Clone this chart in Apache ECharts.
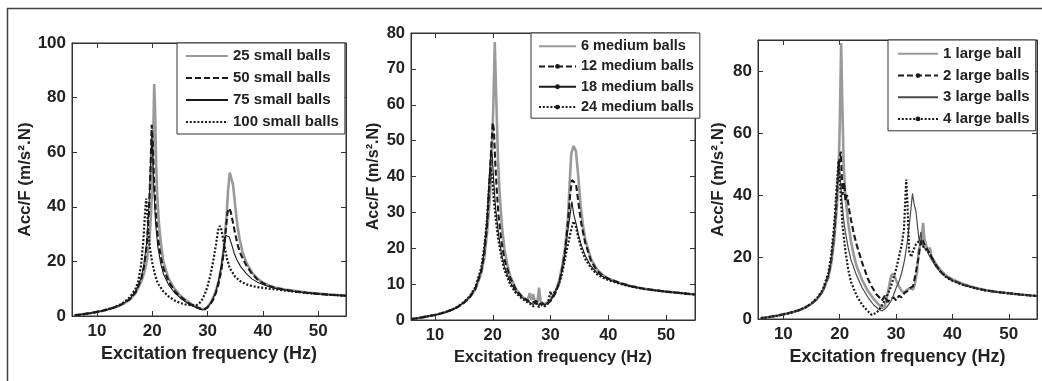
<!DOCTYPE html>
<html><head><meta charset="utf-8">
<script src="https://cdn.jsdelivr.net/npm/echarts@6/dist/echarts.min.js"></script>
<style>html,body{margin:0;padding:0;background:#fff}#c{width:1042px;height:381px}</style>
</head><body><div id="c"></div>
<script>
// ---------- tick labels ----------
const xTicks = [10, 20, 30, 40, 50];
const yTicks1 = [0, 20, 40, 60, 80, 100];
const yTicks2 = [0, 10, 20, 30, 40, 50, 60, 70, 80];
const yTicks3 = [0, 20, 40, 60, 80];

// ---------- legend names ----------
const names1 = ['25 small balls', '50 small balls', '75 small balls', '100 small balls'];
const names2 = ['6 medium balls', '12 medium balls', '18 medium balls', '24 medium balls'];
const names3 = ['1 large ball', '2 large balls', '3 large balls', '4 large balls'];

// ---------- panel 1 data [Hz, Acc/F] ----------
const small25 = [[6,0.3],[7,0.5],[8,0.8],[9,1.1],[10,1.5],[11,1.9],[12,2.4],[13,3.0],[14,3.7],[15,4.7],[16,6.1],[17,8.4],[18,12.5],[18.5,15.5],[19,20],[19.5,28],[19.8,38],[20,50],[20.2,68],[20.35,85],[20.5,76],[20.7,56],[20.9,44],[21.2,34],[21.6,26],[22,20],[22.5,16.5],[23,13.5],[24,10],[25,7.6],[26,5.9],[27,4.4],[28,3.3],[29,2.5],[29.5,2.6],[30,3.4],[30.5,4.7],[31,6.6],[31.5,9.3],[32,13],[32.5,18],[33,26],[33.4,36],[33.7,46],[34,52.5],[34.3,52],[34.6,48],[35,40],[35.4,33],[35.8,28],[36.3,23.5],[37,19.5],[38,16],[39,13.7],[40,12.2],[41,11.2],[42,10.5],[44,9.7],[46,9.1],[48,8.6],[50,8.2],[52,7.9],[55,7.5]];
const small50 = [[6,0.3],[7,0.5],[8,0.8],[9,1.1],[10,1.5],[11,1.9],[12,2.4],[13,3.0],[14,3.8],[15,4.8],[16,6.3],[17,8.8],[18,13.5],[18.5,18],[19,26],[19.4,38],[19.7,55],[19.9,70],[20.1,63],[20.3,51],[20.6,39],[21,29],[21.5,22],[22,17.5],[23,12.5],[24,9.3],[25,7.2],[26,5.6],[27,4.2],[28,3.2],[29,2.4],[29.5,2.5],[30,3.2],[30.5,4.4],[31,6],[31.5,8.5],[32,12],[32.5,17],[33,25],[33.3,32],[33.6,38],[33.9,39.5],[34.2,38],[34.6,34],[35,30],[35.5,25.5],[36,22.5],[37,18.5],[38,15.5],[39,13.4],[40,12],[41,11.1],[42,10.4],[44,9.6],[46,9],[48,8.5],[50,8.1],[52,7.8],[55,7.4]];
const small75 = [[6,0.3],[7,0.5],[8,0.8],[9,1.1],[10,1.5],[11,1.9],[12,2.4],[13,3.0],[14,3.8],[15,4.9],[16,6.4],[17,9],[18,14],[18.5,19],[19,27],[19.4,40],[19.7,56],[19.9,66],[20.1,58],[20.3,46],[20.6,34],[21,25.5],[21.5,19.5],[22,15.5],[23,11.3],[24,8.6],[25,6.7],[26,5.2],[27,3.9],[28,3],[29,2.3],[29.5,2.4],[30,3.2],[30.5,4.6],[31,6.5],[31.5,9],[32,13],[32.5,19],[33,26],[33.3,29.5],[33.6,30],[33.9,29],[34.3,26.5],[34.8,23],[35.3,20.5],[36,18],[37,15.5],[38,13.6],[39,12.4],[40,11.5],[41,10.8],[42,10.2],[44,9.5],[46,8.9],[48,8.5],[50,8.1],[52,7.8],[55,7.4]];
const small100 = [[6,0.3],[7,0.5],[8,0.8],[9,1.1],[10,1.5],[11,1.9],[12,2.5],[13,3.1],[14,4],[15,5.2],[16,7],[17,10],[17.5,13],[18,19],[18.4,28],[18.7,38],[18.9,43],[19.1,38],[19.3,31],[19.6,24.5],[20,19.5],[20.5,15],[21,12],[22,9],[23,7.1],[24,5.7],[25,4.8],[26,4.2],[27,3.9],[28,4],[28.5,4.6],[29,6],[29.5,8],[30,11],[30.5,15],[31,20],[31.5,26],[31.9,31.5],[32.2,33],[32.5,31.5],[33,26],[33.5,21],[34,17.5],[35,14.3],[36,12.6],[37,11.6],[38,11],[39,10.6],[40,10.3],[42,9.8],[44,9.3],[46,8.8],[48,8.4],[50,8.1],[52,7.8],[55,7.4]];

// ---------- panel 2 data ----------
const medium6 = [[6,0.3],[7,0.5],[8,0.8],[9,1.1],[10,1.4],[11,1.8],[12,2.3],[13,2.9],[14,3.7],[15,4.8],[16,6.3],[17,8.6],[18,13],[18.5,17],[19,24],[19.5,34],[19.8,45],[20.1,60],[20.35,77.5],[20.6,62],[20.9,45],[21.2,35],[21.6,26],[22,20],[22.5,15.5],[23,12.3],[24,8.7],[25,6.6],[26,5.4],[26.4,7.5],[26.7,5.6],[27,7.2],[27.3,5.1],[27.7,4.6],[28,9],[28.3,5],[29,4.5],[29.5,4.9],[30,5.6],[30.5,7],[31,8.6],[31.5,11],[32,15],[32.5,20],[33,28],[33.3,38],[33.6,46.5],[34,48.5],[34.4,47],[34.8,40],[35.2,32],[35.6,26.5],[36,22.5],[37,17],[38,14.2],[39,12.6],[40,11.6],[42,10.3],[44,9.4],[46,8.8],[48,8.3],[50,7.9],[52,7.6],[55,7.1]];
const medium12 = [[6,0.3],[7,0.5],[8,0.8],[9,1.1],[10,1.4],[11,1.8],[12,2.3],[13,2.9],[14,3.7],[15,4.8],[16,6.3],[17,8.7],[18,13.5],[18.5,18],[19,26],[19.4,37],[19.7,47],[20,55],[20.2,53],[20.4,45],[20.7,36],[21,29],[21.5,22],[22,17],[23,11.8],[24,8.5],[25,6.6],[26,5.5],[26.5,5],[27,4.9],[27.5,5.3],[28,4.3],[28.5,4.7],[29,4.2],[29.5,4.6],[30,5.3],[30.5,6.5],[31,8],[31.5,10.5],[32,14],[32.5,19],[33,27],[33.4,35],[33.7,39],[34,39.5],[34.4,38],[34.8,33],[35.3,27],[36,21.5],[37,16.5],[38,13.8],[39,12.4],[40,11.5],[42,10.3],[44,9.4],[46,8.8],[48,8.3],[50,7.9],[52,7.6],[55,7.1]];
const medium18 = [[6,0.3],[7,0.5],[8,0.8],[9,1.1],[10,1.4],[11,1.8],[12,2.3],[13,2.9],[14,3.7],[15,4.9],[16,6.4],[17,8.9],[18,14],[18.5,19],[19,28],[19.4,40],[19.7,47.5],[19.9,46],[20.2,38],[20.5,31],[21,24],[21.5,18.5],[22,15],[23,10.6],[24,7.9],[25,6.3],[26,5.3],[26.5,4.8],[27,4.3],[27.5,5],[28,4],[28.5,4.6],[29,4.1],[29.5,4.8],[30,5.5],[30.5,6.8],[31,8.5],[31.5,10.5],[32,14],[32.5,18.5],[33,25],[33.4,29.5],[33.7,33],[34,29.5],[34.4,27],[34.8,24],[35.3,21],[36,18],[37,15],[38,13.2],[39,12.1],[40,11.3],[42,10.2],[44,9.3],[46,8.7],[48,8.3],[50,7.9],[52,7.6],[55,7.1]];
const medium24 = [[6,0.3],[7,0.5],[8,0.8],[9,1.1],[10,1.4],[11,1.8],[12,2.3],[13,2.9],[14,3.8],[15,5],[16,6.6],[17,9.2],[18,14.5],[18.5,20],[19,28],[19.3,36],[19.6,42.5],[19.9,40],[20.2,33],[20.6,27],[21,22],[21.5,17.5],[22,14],[23,10],[24,7.5],[25,6],[26,5],[26.5,4.5],[27,3.8],[27.5,4.5],[28,3.6],[28.5,4.2],[29,3.8],[29.5,4.5],[30,8],[30.3,6],[30.6,7.5],[31,8.5],[31.5,10],[32,13],[32.5,17],[33,21],[33.4,24],[33.7,26],[34,27.5],[34.4,26],[34.8,23],[35.3,20],[36,17],[37,14.5],[38,12.8],[39,11.8],[40,11.1],[42,10.1],[44,9.3],[46,8.7],[48,8.3],[50,7.9],[52,7.6],[55,7.1]];

// ---------- panel 3 data ----------
const large1 = [[6,0.3],[7,0.5],[8,0.8],[9,1.1],[10,1.5],[11,1.9],[12,2.4],[13,3.0],[14,3.8],[15,4.9],[16,6.5],[17,9],[18,13.5],[18.5,18],[19,25],[19.5,36],[19.8,48],[20,62],[20.25,89],[20.45,70],[20.7,50],[21,40],[21.5,31],[22,25],[22.5,20.5],[23,17],[24,12.5],[25,9],[26,6.5],[27,4.5],[27.5,3.5],[28,4.2],[28.5,8],[29,13],[29.3,14.5],[29.7,14],[30,12.5],[30.5,10.5],[31,9],[31.5,8.5],[32,9.5],[32.5,10],[33,9.5],[33.3,11],[33.7,15],[34,22],[34.3,24],[34.6,28],[34.8,31],[35,26],[35.3,24],[35.6,22],[36,23],[36.3,20],[37,18],[38,15.5],[39,13.8],[40,12.8],[42,11.2],[44,10.1],[46,9.3],[48,8.7],[50,8.3],[52,7.9],[55,7.4]];
const large2 = [[6,0.3],[7,0.5],[8,0.8],[9,1.1],[10,1.5],[11,1.9],[12,2.4],[13,3.0],[14,3.8],[15,4.9],[16,6.5],[17,9],[18,14],[18.5,19],[19,27],[19.4,37],[19.7,47],[20,52],[20.2,54],[20.5,40],[20.8,44],[21,38],[21.3,40],[21.7,35],[22,32],[22.5,27.5],[23,24],[23.5,21],[24,18],[24.5,15.5],[25,13],[25.5,11],[26,9.5],[26.5,8],[27,7],[27.5,6],[28,7.5],[28.5,5.5],[29,6.5],[29.5,7],[30,6],[30.5,7.5],[31,7],[31.5,8.5],[32,9],[32.5,10],[33,10.5],[33.5,15],[34,20],[34.3,24],[34.6,26],[35,24],[35.5,22.5],[36,21],[37,17.5],[38,15],[39,13.5],[40,12.5],[42,11],[44,10],[46,9.2],[48,8.7],[50,8.3],[52,7.9],[55,7.4]];
const large3 = [[6,0.3],[7,0.5],[8,0.8],[9,1.1],[10,1.5],[11,1.9],[12,2.4],[13,3.0],[14,3.8],[15,4.9],[16,6.5],[17,9],[18,14],[18.5,19],[19,27],[19.4,38],[19.7,47],[19.9,50],[20.1,45],[20.4,38],[20.7,32],[21,28],[21.5,23],[22,19],[23,14],[24,10],[25,7],[26,4.6],[27,3],[27.5,2.6],[28,3.2],[28.5,4.2],[29,5.5],[29.5,7.5],[30,10],[30.5,12],[31,15],[31.5,19],[32,25],[32.5,33],[32.9,40.5],[33.2,37],[33.5,35],[33.8,30],[34.1,25],[34.4,28],[34.7,24],[35,23],[35.5,22],[36,20],[37,17],[38,14.8],[39,13.4],[40,12.4],[42,11],[44,10],[46,9.2],[48,8.7],[50,8.3],[52,7.9],[55,7.4]];
const large4 = [[6,0.3],[7,0.5],[8,0.8],[9,1.1],[10,1.5],[11,1.9],[12,2.4],[13,3.0],[14,3.9],[15,5.1],[16,6.8],[17,9.5],[18,15],[18.5,21],[19,30],[19.4,41],[19.8,51],[20.1,42],[20.5,30],[21,22],[21.5,16],[22,12],[23,7.5],[24,4.5],[25,2.5],[25.7,1.3],[26.5,2],[27,3],[28,6],[28.5,8],[29,10],[29.5,13],[30,16],[30.5,20],[31,24],[31.4,29],[31.8,45],[32,38],[32.3,22],[32.7,20],[33,22],[33.5,24],[34,25],[34.5,24],[35,23],[35.5,22],[36,21],[37,17.5],[38,15],[39,13.3],[40,12.3],[42,10.9],[44,9.9],[46,9.2],[48,8.7],[50,8.3],[52,7.9],[55,7.4]];

// ---------- layout / style ----------
const FONT = 'Liberation Sans';
const panels = [
  { grid: {left: 72, top: 43, width: 274, height: 273}, xmin: 5.5, xmax: 55, ymax: 100, yTicks: yTicks1,
    tickFont: 17, xNameFont: 18, yNameFont: 17, xGap: 24, yGap: 30,
    legend: {left: 177, top: 43, itemWidth: 42, lineHeight: 22, fontSize: 15, padding: [2, 6, 1, 8]},
    names: names1, data: [small25, small50, small75, small100],
    styles: ['grey', 'dash', 'thin', 'dot'], marker: [false, false, false, false] },
  { grid: {left: 411, top: 33, width: 284, height: 287}, xmin: 5.85, xmax: 55, ymax: 80, yTicks: yTicks2,
    tickFont: 16.5, xNameFont: 16.5, yNameFont: 16, xGap: 22, yGap: 29,
    legend: {left: 531, top: 33, itemWidth: 37, lineHeight: 20.3, fontSize: 14.5, padding: [3, 6, 1, 7]},
    names: names2, data: [medium6, medium12, medium18, medium24],
    styles: ['grey', 'dash', 'thin', 'dot'], marker: [false, true, true, true] },
  { grid: {left: 758, top: 40, width: 279, height: 279}, xmin: 5.5, xmax: 55, ymax: 90, yTicks: yTicks3,
    tickFont: 17, xNameFont: 18, yNameFont: 17, xGap: 25, yGap: 31,
    legend: {left: 888, top: 40, itemWidth: 40, lineHeight: 21.7, fontSize: 15, padding: [3, 6, 1, 9]},
    names: names3, data: [large1, large2, large3, large4],
    styles: ['grey', 'dash', 'thinGrey', 'dot'], marker: [false, true, false, true] }
];
const lineStyles = {
  grey: {color: '#9a9a9a', width: 2.6, type: 'solid'},
  dash: {color: '#1a1a1a', width: 2.1, type: [6, 3]},
  thin: {color: '#1a1a1a', width: 1.1, type: 'solid'},
  thinGrey: {color: '#4a4a4a', width: 1.2, type: 'solid'},
  dot: {color: '#1a1a1a', width: 2.2, type: [2, 1.8]}
};

const option = {
  animation: false,
  backgroundColor: '#fff',
  grid: [], xAxis: [], yAxis: [], legend: [], series: [],
  graphic: [{type: 'rect', silent: true, z: -10,
    shape: {x: 7.5, y: 8.5, width: 1100, height: 420},
    style: {fill: 'none', stroke: '#444', lineWidth: 1.5}}]
};

const axisLineStyle = {show: true, lineStyle: {color: '#333', width: 1}};
const tickStyle = (vals) => ({show: true, inside: true, length: 5, customValues: vals, lineStyle: {color: '#333'}});

panels.forEach((p, k) => {
  option.grid.push(Object.assign({show: true, borderColor: '#333', borderWidth: 1, backgroundColor: 'transparent'}, p.grid));
  const labelStyle = {fontFamily: FONT, fontWeight: 'bold', fontSize: p.tickFont, color: '#222'};
  option.xAxis.push({
    type: 'value', gridIndex: k, min: p.xmin, max: p.xmax, position: 'bottom',
    axisLine: Object.assign({onZero: false}, axisLineStyle), axisTick: tickStyle(xTicks),
    axisLabel: Object.assign({customValues: xTicks, margin: 7}, labelStyle),
    splitLine: {show: false},
    name: 'Excitation frequency (Hz)', nameLocation: 'middle', nameGap: p.xGap,
    nameTextStyle: {fontFamily: FONT, fontWeight: 'bold', fontSize: p.xNameFont, color: '#222', verticalAlign: 'top'}
  });
  option.xAxis.push({
    type: 'value', gridIndex: k, min: p.xmin, max: p.xmax, position: 'top',
    axisLine: Object.assign({onZero: false}, axisLineStyle), axisTick: tickStyle(xTicks),
    axisLabel: {show: false}, splitLine: {show: false}
  });
  option.yAxis.push({
    type: 'value', gridIndex: k, min: 0, max: p.ymax, position: 'left',
    axisLine: Object.assign({onZero: false}, axisLineStyle), axisTick: tickStyle(p.yTicks),
    axisLabel: Object.assign({customValues: p.yTicks, margin: 6}, labelStyle),
    splitLine: {show: false},
    name: 'Acc/F (m/s\u00B2.N)', nameLocation: 'middle', nameGap: p.yGap, nameRotate: 90,
    nameTextStyle: {fontFamily: FONT, fontWeight: 'bold', fontSize: p.yNameFont, color: '#222', verticalAlign: 'bottom'}
  });
  option.yAxis.push({
    type: 'value', gridIndex: k, min: 0, max: p.ymax, position: 'right',
    axisLine: Object.assign({onZero: false}, axisLineStyle), axisTick: tickStyle(p.yTicks),
    axisLabel: {show: false}, splitLine: {show: false}
  });
  const L = p.legend;
  option.legend.push({
    orient: 'vertical', left: L.left, top: L.top, selectedMode: false,
    itemWidth: L.itemWidth, itemHeight: 6, itemGap: 0, padding: L.padding,
    borderColor: '#333', borderWidth: 1, backgroundColor: '#fff', borderRadius: 0,
    textStyle: {fontFamily: FONT, fontWeight: 'bold', fontSize: L.fontSize, color: '#222', lineHeight: L.lineHeight},
    data: p.names.map((n, i) => p.marker[i] ? {name: n} : {name: n, itemStyle: {opacity: 0}})
  });
  p.names.forEach((n, i) => {
    const ls = lineStyles[p.styles[i]];
    option.series.push({
      type: 'line', name: n, xAxisIndex: 2 * k, yAxisIndex: 2 * k,
      data: p.data[i], showSymbol: false,
      symbol: 'circle', symbolSize: 4,
      itemStyle: {color: ls.color},
      lineStyle: {color: ls.color, width: ls.width, type: ls.type},
      emphasis: {disabled: true}, z: 2 + i
    });
  });
});

const chart = echarts.init(document.getElementById('c'), null, {renderer: 'canvas'});
chart.setOption(option);
</script>
</body></html>
